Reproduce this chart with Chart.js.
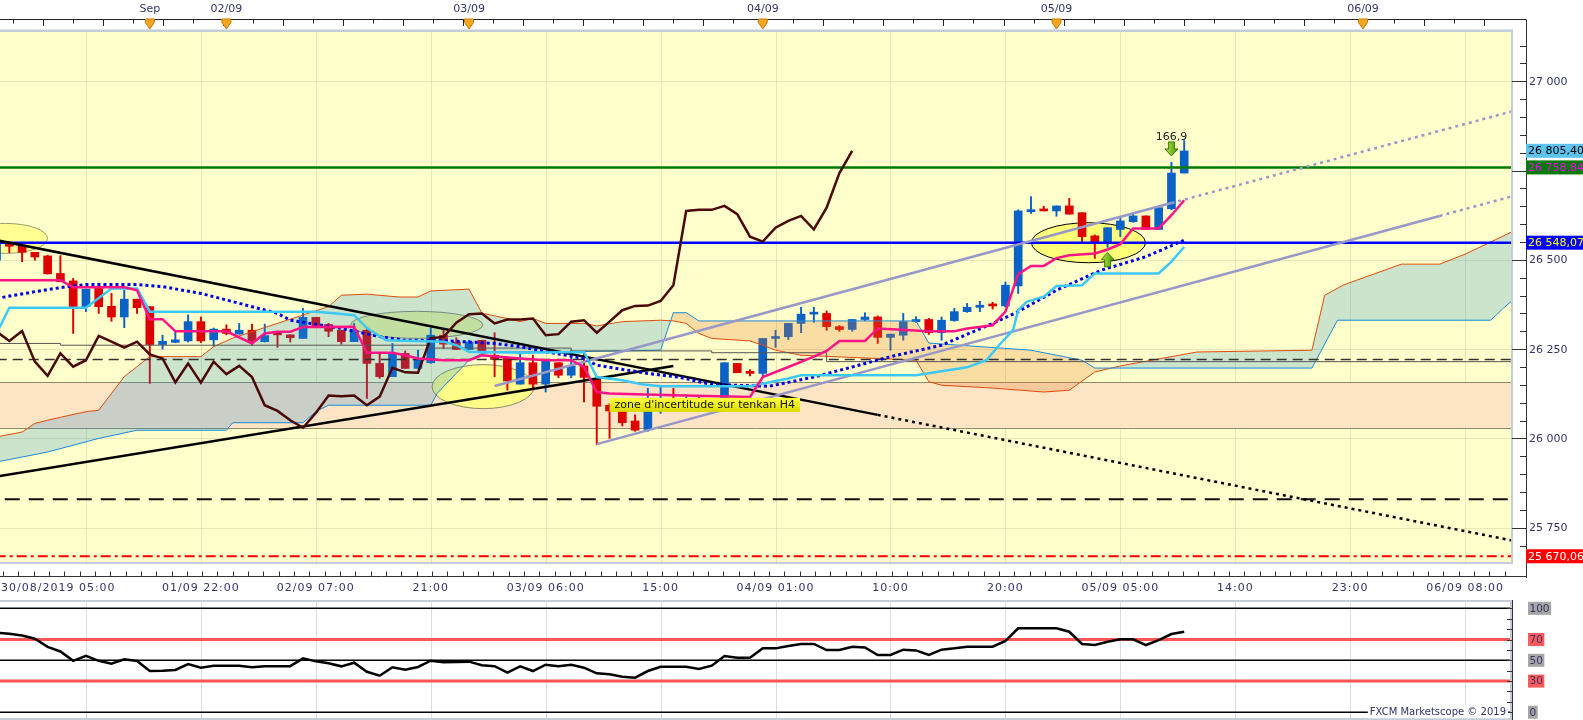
<!DOCTYPE html>
<html lang="fr">
<head>
<meta charset="utf-8">
<title>GER30 H1 - Marketscope</title>
<script src="https://cdn.jsdelivr.net/npm/chart.js@4.4.1/dist/chart.umd.min.js"></script>
<style>
  html, body { margin: 0; padding: 0; background: #ffffff; }
  #wrap { position: relative; width: 1583px; height: 720px; overflow: hidden; }
  canvas { position: absolute; left: 0; }
  #price { top: 0; }
  #osc { top: 598px; }
</style>
</head>
<body>
<div id="wrap">
  <canvas id="price" width="1583" height="598"></canvas>
  <canvas id="osc" width="1583" height="122"></canvas>
</div>
<script>
'use strict';

var FONT = '"DejaVu Sans", Verdana, sans-serif';

// Candles, one per hourly bar (bar 0 is cut by the left edge)
var candleOpen = [
  26499,26541,26539,26521,26511,26462,26441,26369,26420,26370,
  26340,26390,26369,26263,26269,26273,26327,26276,26306,26292,
  26303,26271,26294,26290,26280,26339,26319,26303,26271,26303,
  26210,26173,26238,26196,26212,26289,26270,26249,26275,26233,
  26224,26152,26212,26152,26212,26177,26203,26168,26093,26077,
  26049,26025,26080,26110,26095,26110,26095,26107,26210,26188,
  26182,26280,26285,26322,26348,26350,26313,26305,26333,26340,
  26283,26289,26327,26333,26296,26330,26355,26367,26373,26371,
  26427,26635,26640,26637,26651,26632,26567,26551,26585,26607,
  26623,26585,26643,26743];
var candleHigh = [
  26550,26545,26541,26521,26513,26512,26448,26418,26420,26406,
  26415,26390,26369,26289,26300,26346,26340,26309,26318,26322,
  26320,26320,26300,26290,26364,26339,26322,26303,26322,26310,
  26238,26266,26245,26247,26310,26303,26282,26275,26275,26296,
  26224,26238,26233,26217,26212,26247,26243,26173,26097,26080,
  26066,26140,26145,26140,26118,26115,26112,26212,26210,26193,
  26280,26303,26322,26367,26367,26357,26316,26333,26352,26343,
  26292,26350,26341,26336,26340,26364,26378,26384,26381,26438,
  26640,26677,26650,26651,26672,26632,26570,26590,26620,26630,
  26623,26646,26773,26834];
var candleLow = [
  26490,26520,26495,26499,26460,26439,26294,26355,26350,26328,
  26310,26350,26154,26250,26268,26270,26268,26258,26290,26292,
  26260,26270,26255,26270,26280,26314,26285,26264,26271,26112,
  26168,26173,26196,26196,26210,26252,26249,26249,26240,26173,
  26135,26152,26137,26130,26170,26170,26102,25983,26000,26035,
  26020,26020,26070,26090,26090,26085,26090,26100,26184,26175,
  26175,26255,26277,26296,26325,26303,26300,26300,26330,26266,
  26247,26275,26325,26291,26275,26328,26353,26355,26362,26368,
  26406,26630,26637,26622,26628,26551,26504,26535,26565,26605,
  26585,26585,26640,26743];
var candleClose = [
  26544,26538,26521,26508,26461,26439,26369,26418,26369,26340,
  26390,26366,26263,26272,26276,26327,26273,26306,26294,26303,
  26272,26288,26290,26282,26339,26314,26300,26271,26303,26210,
  26173,26238,26196,26224,26289,26264,26249,26270,26243,26221,
  26161,26212,26152,26217,26177,26203,26171,26090,26077,26044,
  26023,26080,26110,26095,26110,26090,26105,26212,26184,26182,
  26280,26285,26322,26348,26352,26313,26305,26333,26340,26283,
  26292,26327,26333,26296,26331,26355,26367,26373,26371,26429,
  26637,26640,26637,26651,26628,26565,26551,26590,26609,26623,
  26585,26646,26743,26805];

// Ichimoku lines (bar, value)
var tenkanBar = [0,5,6,10,11,12,13,14,18,20,21,22,23,24,28,29,31,32,33,35,37,38,41,43,45,46,47,48,53,59,
  60,62,64,65,66,68,69,73,75,76,78,79,80,81,82,83,84,86,87,88,89,91,92,93];
var tenkanVal = [26443,26443,26423,26423,26415,26334,26334,26300,26300,26266,26294,26299,26299,26312,26313,26240,26240,26233,26224,26219,
  26219,26233,26224,26219,26219,26200,26130,26126,26121,26116,26172,26200,26229,26245,26273,26273,26308,26300,26300,26308,
  26317,26355,26460,26483,26483,26505,26513,26518,26529,26544,26588,26588,26625,26667];
var kijunBar = [0,1,7,9,11,12,25,26,28,29,30.5,35,36,37,41,46,47,49,50.5,52,59,62,63,72,76,77.5,78.5,79.6,80,80.7,82,83,85,86,91,92,93];
var kijunVal = [26294,26366,26366,26420,26420,26355,26355,26352,26345,26309,26275,26271,26261,26243,26240,26242,26172,26163,26152,26146,
  26146,26168,26177,26177,26199,26219,26261,26303,26359,26383,26397,26427,26429,26462,26462,26495,26536];
var chikouVal = [
  26299,26273,26301,26215,26175,26238,26201,26219,26287,26271,
  26254,26271,26235,26224,26157,26210,26156,26215,26180,26203,
  26172,26093,26077,26051,26030,26071,26120,26118,26120,26093,
  26117,26198,26185,26184,26281,26284,26324,26348,26350,26322,
  26333,26333,26336,26289,26292,26327,26331,26296,26327,26359,
  26371,26372,26385,26429,26637,26640,26640,26651,26628,26565,
  26551,26590,26609,26623,26585,26646,26743,26805];
var spanABar = [0,2,3,4,5,7,8,9,10,11,12,16,17,18.5,26,27,29,31.5,33,34,37,38,39,40,41,42,43,46,47,49,
  52,53,54,55,56,59,60,61,63,72,73,74,78,82,84,86,88,94,103,104,105.5,110,113,115,117,119];
var spanAVal = [26004,26018,26042,26051,26059,26075,26079,26126,26173,26201,26229,26229,26257,26281,26369,26401,26404,26396,26396,26413,
  26418,26351,26343,26336,26327,26336,26322,26322,26315,26327,26331,26329,26322,26294,26280,26273,26261,26247,26233,26219,
  26159,26149,26141,26130,26135,26186,26203,26242,26247,26401,26430,26488,26488,26516,26550,26584];
var spanBBar = [0,4,8,11,18,18.5,24,25,26,34,34.5,36,37,38,39.4,45.6,52,53,54,55,72,73,81,85,86,103,105,117,118,119];
var spanBVal = [25934,25962,26000,26023,26023,26044,26044,26075,26093,26093,26126,26182,26219,26238,26242,26243,26247,26352,26352,26329,
  26329,26267,26247,26219,26197,26197,26331,26331,26365,26396];

// Blue dotted average
var avgBar = [0,3,5.5,7,11,13,16,18.5,22,23,27,30,32,35,39,41,43,46,47,51,53.5,56,60.5,64,67,70,74,78,80,83,86.5,90,93];
var avgVal = [26392,26411,26425,26431,26431,26425,26406,26383,26350,26331,26308,26285,26275,26274,26266,26257,26243,26224,26205,26182,
  26171,26151,26146,26172,26200,26229,26261,26322,26355,26415,26471,26509,26555];

// Thin stepped reference line
var stepBar = [0,5,34,45,56,65,104,125];
var stepVal = [26273,26266,26261,26253,26245,26240,26215,26215];

// Drawn trend lines (two anchors each)
var fallBar = [0,69], fallVal = [26555,26066];
var fallExtBar = [69,119], fallExtVal = [26066,25712];
var riseBar = [0,53], riseVal = [25893,26203];
var chanTopBar = [39,92], chanTopVal = [26147,26659];
var chanTopExtBar = [92,119], chanTopExtVal = [26659,26919];
var chanLowBar = [47,113], chanLowVal = [25984,26623];
var chanLowExtBar = [113,119], chanLowExtVal = [26623,26681];

// Horizontal levels
var levelGreen = 26758.84, levelBlue = 26548.07, levelDash = 26221, levelLongDash = 25830, levelRed = 25670.06;
var zoneTop = 26157, zoneBottom = 26030;

// RSI, one value per bar
var rsiValues = [
  76.5,75.5,73.8,70.8,63,58.5,49.5,54.4,49.5,46.8,
  51,49.3,39.7,40,40.7,46.4,42.9,44.8,44.8,44.8,
  43.3,44.4,44.4,44.4,51.9,49,47.1,44.2,47.7,39,
  35.2,43.3,41,43.6,49.6,48.1,48.3,48.7,45.2,44.4,
  38.1,44.2,39.7,45.8,44.4,45.8,42.9,37.5,36.5,34.2,
  33.3,39.7,43.8,43.8,43.8,41.6,44.8,54.1,52.5,52.5,
  61.5,61.5,63.8,65.7,65.7,59.9,59.9,63.1,62.4,55.1,
  55.1,60.2,59.5,55.1,60.2,61.5,63.1,63.1,63.1,68.6,
  80.8,80.8,80.8,80.8,77.5,65.7,64.7,67.9,70.2,70.2,
  64.7,69.5,75.3,77.5];
var rsiLevels = [100, 70, 50, 30, 0];

// Axis labels
var gridBars = [7,16,25,34,43,52,61,70,79,88,97,106,115];
var timeTickBars = [0,16,25,34,43,52,61,70,79,88,97,106,115];
var timeTickLabels = ['30/08/2019 05:00','01/09 22:00','02/09 07:00','21:00','03/09 06:00','15:00',
  '04/09 01:00','10:00','20:00','05/09 05:00','14:00','23:00','06/09 08:00'];
var dayMarkBars = [12,18,37,60,83,107];
var dayMarkLabels = ['Sep','02/09','03/09','04/09','05/09','06/09'];
var priceTickValues = [25750,26000,26250,26500,27000];
var priceTickLabels = ['25 750','26 000','26 250','26 500','27 000'];
var priceTagValues = [26805.40, 26758.84, 26548.07, 25670.06];
var priceTagLabels = ['26 805,40','26 758,84','26 548,07','25 670,06'];

// Drawn objects on the price panel
var ellipses = [
  { bar: 0.7,  val: 26560, rx: 42, ry: 15,   fill: 'rgba(255,255,140,0.9)', stroke: '#9C9C6C' },
  { bar: 32.9, val: 26318, rx: 66, ry: 13.5, fill: 'rgba(238,245,120,0.65)', stroke: '#8C8C66' },
  { bar: 38.1, val: 26145, rx: 51, ry: 22,   fill: 'rgba(255,255,130,0.9)', stroke: '#8C8C66' },
  { bar: 85.5, val: 26548, rx: 57, ry: 20,   fill: '#FFFF78', stroke: '#000000' }
];
var noteLabel = { bar: 48, val: 26094, text: "zone d'incertitude sur tenkan H4" };
var signalDown = { bar: 92, val: 26791, text: '166,9', textVal: 26845 };
var signalUp = { bar: 87, val: 26520 };

var UP = '#0A62C6', DOWN = '#DE0000';
var bars = candleOpen.map(function(_, i) { return i; });

function candleColor(i) {
    return candleClose[i] >= candleOpen[i] ? UP : DOWN;
}

function pts(xs, ys) {
    return xs.map(function(x, i) { return { x: x, y: ys[i] }; });
}

function flat(v) {
    return [{ x: -5, y: v }, { x: 125, y: v }];
}

function lineSet(label, data, color, width, extra) {
    var set = {
        type: 'line', label: label, data: data,
        borderColor: color, borderWidth: width,
        pointRadius: 0, fill: false, tension: 0, clip: 0, order: 5
    };
    return Object.assign(set, extra || {});
}

function hl(ctx, x1, x2, y) {
    ctx.beginPath(); ctx.moveTo(x1, y); ctx.lineTo(x2, y); ctx.stroke();
}

function vl(ctx, x, y1, y2) {
    ctx.beginPath(); ctx.moveTo(x, y1); ctx.lineTo(x, y2); ctx.stroke();
}

function drawArrow(ctx, cx, tipY, dir) {
    // dir 1 = pointing down, -1 = pointing up
    var hw = 6.5, sw = 3, head = 7, len = 14;
    var baseY = tipY - dir * len, neckY = tipY - dir * head;
    ctx.beginPath();
    ctx.moveTo(cx - sw, baseY);
    ctx.lineTo(cx + sw, baseY);
    ctx.lineTo(cx + sw, neckY);
    ctx.lineTo(cx + hw, neckY);
    ctx.lineTo(cx, tipY);
    ctx.lineTo(cx - hw, neckY);
    ctx.lineTo(cx - sw, neckY);
    ctx.closePath();
    var g = ctx.createLinearGradient(cx - hw, 0, cx + hw, 0);
    g.addColorStop(0, '#B4E04A');
    g.addColorStop(1, '#4E9A06');
    ctx.fillStyle = g;
    ctx.fill();
    ctx.strokeStyle = '#3C7A08';
    ctx.lineWidth = 1;
    ctx.stroke();
}

// ---- price panel datasets ----
var priceSets = [];
priceSets.push(lineSet('Tenkan', pts(tenkanBar, tenkanVal), '#FF1488', 2.5, { order: 1 }));
priceSets.push(lineSet('Kijun', pts(kijunBar, kijunVal), '#3CC8F5', 2.5, { order: 2 }));
priceSets.push(lineSet('Moyenne', pts(avgBar, avgVal), '#0000E6', 3, { order: 2, borderDash: [3, 3] }));
priceSets.push(lineSet('Chikou', chikouVal.map(function(v, i) { return { x: i, y: v }; }), '#4A0808', 2.5, { order: 3 }));
priceSets.push(lineSet('Canal haut', pts(chanTopBar, chanTopVal), '#9898C8', 2.5, { order: 6 }));
priceSets.push(lineSet('Canal haut ext', pts(chanTopExtBar, chanTopExtVal), '#9898C8', 2.5, { order: 6, borderDash: [3, 4] }));
priceSets.push(lineSet('Canal bas', pts(chanLowBar, chanLowVal), '#9898C8', 2.5, { order: 6 }));
priceSets.push(lineSet('Canal bas ext', pts(chanLowExtBar, chanLowExtVal), '#9898C8', 2.5, { order: 6, borderDash: [3, 4] }));
priceSets.push(lineSet('Oblique baissiere', pts(fallBar, fallVal), '#000000', 2.5, { order: 7 }));
priceSets.push(lineSet('Oblique baissiere ext', pts(fallExtBar, fallExtVal), '#000000', 2.5, { order: 7, borderDash: [3, 4] }));
priceSets.push(lineSet('Oblique haussiere', pts(riseBar, riseVal), '#000000', 2.5, { order: 7 }));
priceSets.push(lineSet('Niveau vert', flat(levelGreen), '#007A00', 2.5, { order: 8 }));
priceSets.push(lineSet('Niveau bleu', flat(levelBlue), '#0000FF', 2.5, { order: 8 }));
priceSets.push(lineSet('Pivot', flat(levelDash), '#333333', 1.3, { order: 8, borderDash: [10, 6] }));
priceSets.push(lineSet('Support', flat(levelLongDash), '#111111', 2, { order: 8, borderDash: [15, 9] }));
priceSets.push(lineSet('Stop', flat(levelRed), '#FF0000', 2, { order: 8, borderDash: [10, 4, 3, 4] }));
priceSets.push(lineSet('Kijun H4', pts(stepBar, stepVal), '#555555', 1, { order: 9, stepped: 'after' }));
var spanBIndex = priceSets.length;
priceSets.push(lineSet('Senkou B', pts(spanBBar, spanBVal), '#1C8ADB', 1, { order: 15 }));
priceSets.push(lineSet('Senkou A', pts(spanABar, spanAVal), '#E24A0E', 1, {
    order: 15,
    fill: { target: spanBIndex, above: 'rgba(35,139,203,0.23)', below: 'rgba(230,120,40,0.25)' }
}));
priceSets.push({
    type: 'bar', label: 'Corps',
    data: bars.map(function(i) { return { x: i, y: [candleOpen[i], candleClose[i]] }; }),
    backgroundColor: function(c) { return candleColor(c.dataIndex); },
    barThickness: 8, minBarLength: 2, grouped: false, borderWidth: 0, order: 19, clip: 0
});
priceSets.push({
    type: 'bar', label: 'Meches',
    data: bars.map(function(i) { return { x: i, y: [candleLow[i], candleHigh[i]] }; }),
    backgroundColor: function(c) { return candleColor(c.dataIndex); },
    barThickness: 1.3, grouped: false, borderWidth: 0, order: 20, clip: 0
});

var priceDecor = {
    id: 'priceDecor',
    beforeDraw: function(chart) {
        var ctx = chart.ctx, a = chart.chartArea, x = chart.scales.x, y = chart.scales.y;
        ctx.save();
        ctx.fillStyle = '#FFFFFF';
        ctx.fillRect(0, 0, chart.width, chart.height);
        ctx.fillStyle = '#FFFFCC';
        ctx.fillRect(a.left, a.top, a.right - a.left, a.bottom - a.top);

        ctx.beginPath();
        ctx.rect(a.left, a.top, a.right - a.left, a.bottom - a.top);
        ctx.clip();

        ctx.strokeStyle = 'rgba(190,190,140,0.35)';
        ctx.lineWidth = 1;
        gridBars.forEach(function(b) { vl(ctx, Math.round(x.getPixelForValue(b)) + 0.5, a.top, a.bottom); });
        priceTickValues.forEach(function(v) { hl(ctx, a.left, a.right, Math.round(y.getPixelForValue(v)) + 0.5); });

        // uncertainty band
        var yt = y.getPixelForValue(zoneTop), yb = y.getPixelForValue(zoneBottom);
        ctx.fillStyle = '#FCE4C5';
        ctx.fillRect(a.left, yt, a.right - a.left, yb - yt);
        ctx.strokeStyle = '#8C8C6A';
        hl(ctx, a.left, a.right, Math.round(yt) + 0.5);
        hl(ctx, a.left, a.right, Math.round(yb) + 0.5);

        ellipses.forEach(function(e) {
            ctx.beginPath();
            ctx.ellipse(x.getPixelForValue(e.bar), y.getPixelForValue(e.val), e.rx, e.ry, 0, 0, Math.PI * 2);
            ctx.fillStyle = e.fill;
            ctx.fill();
            ctx.strokeStyle = e.stroke;
            ctx.lineWidth = 1;
            ctx.stroke();
        });
        ctx.restore();
    },
    afterDraw: function(chart) {
        var ctx = chart.ctx, a = chart.chartArea, x = chart.scales.x, y = chart.scales.y;
        ctx.save();

        // text note on the chart
        ctx.font = '11px ' + FONT;
        var lx = x.getPixelForValue(noteLabel.bar), ly = y.getPixelForValue(noteLabel.val);
        var tw = ctx.measureText(noteLabel.text).width, bh = 14;
        var g = ctx.createLinearGradient(0, ly - bh / 2, 0, ly + bh / 2);
        g.addColorStop(0, '#FFFF40');
        g.addColorStop(1, '#DADA00');
        ctx.fillStyle = g;
        ctx.fillRect(lx, ly - bh / 2, tw + 10, bh);
        ctx.fillStyle = '#111111';
        ctx.textAlign = 'left';
        ctx.textBaseline = 'middle';
        ctx.fillText(noteLabel.text, lx + 5, ly + 0.5);

        // signal arrows
        drawArrow(ctx, x.getPixelForValue(signalDown.bar), y.getPixelForValue(signalDown.val), 1);
        drawArrow(ctx, x.getPixelForValue(signalUp.bar), y.getPixelForValue(signalUp.val), -1);
        ctx.fillStyle = '#222222';
        ctx.textAlign = 'center';
        ctx.fillText(signalDown.text, x.getPixelForValue(signalDown.bar), y.getPixelForValue(signalDown.textVal));

        // panel frame
        ctx.fillStyle = '#C4CCD8';
        ctx.fillRect(0, a.top - 2.5, a.right + 2, 2.5);
        ctx.fillRect(a.right, a.top - 2.5, 2, a.bottom - a.top + 4.5);
        ctx.fillRect(0, a.bottom, a.right + 2, 2);

        // right price axis
        var axX = 1526.5;
        ctx.strokeStyle = '#333333';
        ctx.lineWidth = 1;
        vl(ctx, axX, 20, 578);
        for (var v = 25700; v <= 27100; v += 50) {
            var ty = Math.round(y.getPixelForValue(v)) + 0.5;
            hl(ctx, v % 250 === 0 ? a.right + 1 : 1520, axX, ty);
        }
        ctx.font = '11px ' + FONT;
        ctx.textAlign = 'left';
        ctx.fillStyle = '#33336B';
        priceTickValues.forEach(function(val, i) {
            ctx.fillText(priceTickLabels[i], 1529, y.getPixelForValue(val) + 0.5);
        });
        var tagBg = ['#5CC3EE', '#007A00', '#0000FF', '#FF0000'];
        var tagFg = ['#000000', '#FF00FF', '#FFFF00', '#FFFFFF'];
        priceTagValues.forEach(function(val, i) {
            var cy = y.getPixelForValue(val);
            ctx.fillStyle = tagBg[i];
            ctx.fillRect(1526, cy - 7, 57, 14);
            ctx.fillStyle = tagFg[i];
            ctx.fillText(priceTagLabels[i], 1528, cy + 0.5);
        });

        // top time ruler
        ctx.strokeStyle = '#222222';
        hl(ctx, 0, axX, 19.5);
        var k = 0;
        for (var b = 1.3; b < x.max; b += 2.35) {
            vl(ctx, Math.round(x.getPixelForValue(b)) + 0.5, 19.5, k % 2 ? 26 : 23.5);
            k++;
        }
        ctx.textAlign = 'center';
        dayMarkBars.forEach(function(bar, i) {
            var X = x.getPixelForValue(bar);
            ctx.beginPath();
            ctx.moveTo(X - 4.5, 19);
            ctx.lineTo(X + 4.5, 19);
            ctx.lineTo(X + 4.5, 22.5);
            ctx.lineTo(X, 29);
            ctx.lineTo(X - 4.5, 22.5);
            ctx.closePath();
            ctx.fillStyle = '#F5A524';
            ctx.fill();
            ctx.strokeStyle = '#C77C00';
            ctx.stroke();
            ctx.fillStyle = '#33336B';
            ctx.fillText(dayMarkLabels[i], X, 9);
        });

        // bottom time ruler and labels
        ctx.strokeStyle = '#333333';
        hl(ctx, 0, axX, 576.5);
        for (var t = 0.5; t < x.max; t += 1.2) {
            vl(ctx, Math.round(x.getPixelForValue(t)) + 0.5, 571.5, 576.5);
        }
        ctx.fillStyle = '#33336B';
        ctx.letterSpacing = '1px';
        timeTickBars.forEach(function(bar, i) {
            var w = ctx.measureText(timeTickLabels[i]).width;
            var left = Math.max(1, x.getPixelForValue(bar) - w / 2);
            ctx.textAlign = 'left';
            ctx.fillText(timeTickLabels[i], left, 588);
        });
        ctx.letterSpacing = '0px';
        ctx.restore();
    }
};

new Chart(document.getElementById('price'), {
    type: 'line',
    data: { datasets: priceSets },
    options: {
        responsive: false,
        animation: false,
        events: [],
        layout: { padding: { left: 0, right: 72, top: 32, bottom: 36 } },
        scales: {
            x: { type: 'linear', min: 0.27, max: 118.59, offset: false, grid: { offset: false }, display: false },
            y: { type: 'linear', min: 25654, max: 27138, beginAtZero: false, display: false }
        },
        plugins: { legend: { display: false }, tooltip: { enabled: false } }
    },
    plugins: [priceDecor]
});

// ---- RSI panel ----
var levelColors = ['#000000', '#FF5555', '#000000', '#FF5555', '#000000'];
var levelWidths = [1.5, 3, 1.5, 3, 1.5];
var oscSets = [lineSet('RSI', rsiValues.map(function(v, i) { return { x: i, y: v }; }), '#000000', 2.5, { order: 1 })];
rsiLevels.forEach(function(lv, i) {
    oscSets.push(lineSet('Niveau ' + lv, flat(lv), levelColors[i], levelWidths[i], { order: 5 }));
});

var oscDecor = {
    id: 'oscDecor',
    beforeDraw: function(chart) {
        var ctx = chart.ctx, a = chart.chartArea, x = chart.scales.x;
        ctx.save();
        ctx.fillStyle = '#FFFFFF';
        ctx.fillRect(0, 0, chart.width, chart.height);
        ctx.strokeStyle = '#DCDDE6';
        ctx.lineWidth = 1;
        gridBars.forEach(function(b) { vl(ctx, Math.round(x.getPixelForValue(b)) + 0.5, a.top, a.bottom); });
        ctx.restore();
    },
    afterDraw: function(chart) {
        var ctx = chart.ctx, a = chart.chartArea, y = chart.scales.y;
        ctx.save();
        ctx.fillStyle = '#C4CCD8';
        ctx.fillRect(0, a.top - 2, a.right + 2, 2);
        ctx.fillRect(a.right, a.top - 2, 2, a.bottom - a.top + 4);
        ctx.fillRect(0, a.bottom, a.right + 2, 2);

        ctx.strokeStyle = '#333333';
        ctx.lineWidth = 1;
        vl(ctx, 1512.5, 2, 122);
        for (var v = 0; v <= 100; v += 10) {
            hl(ctx, 1507, 1512.5, Math.round(y.getPixelForValue(v)) + 0.5);
        }
        ctx.font = '10.5px ' + FONT;
        ctx.textBaseline = 'middle';
        ctx.textAlign = 'left';
        var boxBg = ['#A6A6A6', '#FF5A5A', '#A6A6A6', '#FF5A5A', '#A6A6A6'];
        rsiLevels.forEach(function(lv, i) {
            var cy = y.getPixelForValue(lv), label = String(lv);
            var w = ctx.measureText(label).width;
            ctx.fillStyle = boxBg[i];
            ctx.fillRect(1528, cy - 6.5, w + 3, 13);
            ctx.fillStyle = '#33336B';
            ctx.fillText(label, 1529.5, cy + 0.5);
        });

        var credit = 'FXCM Marketscope \u00A9 2019';
        ctx.font = '10px ' + FONT;
        var cw = ctx.measureText(credit).width;
        var cy2 = y.getPixelForValue(0);
        ctx.fillStyle = '#FFFFFF';
        ctx.fillRect(a.right - 4 - cw - 2, cy2 - 6, cw + 4, 12);
        ctx.fillStyle = '#33336B';
        ctx.textAlign = 'right';
        ctx.fillText(credit, a.right - 4, cy2 + 0.5);
        ctx.restore();
    }
};

new Chart(document.getElementById('osc'), {
    type: 'line',
    data: { datasets: oscSets },
    options: {
        responsive: false,
        animation: false,
        events: [],
        layout: { padding: { left: 0, right: 73, top: 4, bottom: 2 } },
        scales: {
            x: { type: 'linear', min: 0.27, max: 118.51, offset: false, display: false },
            y: { type: 'linear', min: -5.5, max: 106.1, display: false }
        },
        plugins: { legend: { display: false }, tooltip: { enabled: false } }
    },
    plugins: [oscDecor]
});
</script>
</body>
</html>
